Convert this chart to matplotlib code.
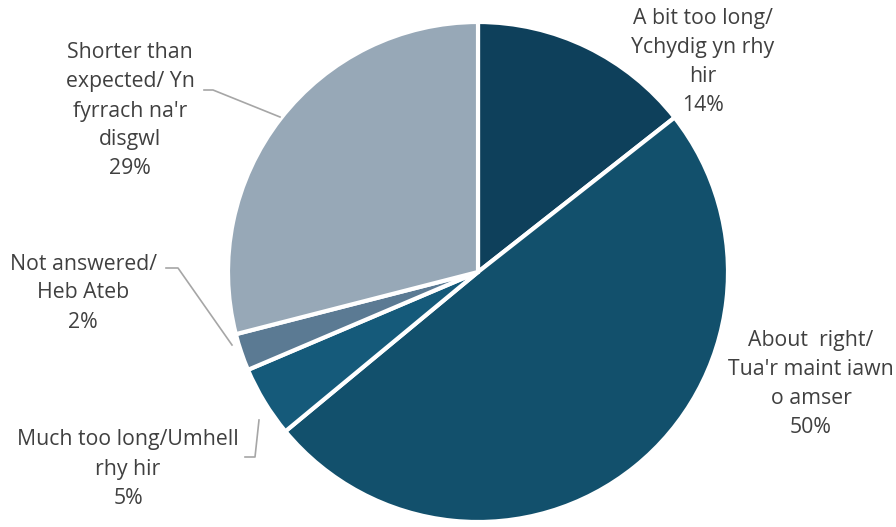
import matplotlib.pyplot as plt

# slices clockwise from 12 o'clock
categories = ['A bit too long/\nYchydig yn rhy\nhir',
              'About  right/\nTua\'r maint iawn\no amser',
              'Much too long/Umhell\nrhy hir',
              'Not answered/\nHeb Ateb',
              'Shorter than\nexpected/ Yn\nfyrrach na\'r\ndisgwl']
values = [14.4, 49.6, 4.6, 2.4, 29.0]
colours = ['#0e405b', '#12506c', '#155a7a', '#5b7a93', '#97a8b7']

W, H = 896, 527
fig = plt.figure(figsize=(W / 100, H / 100), dpi=100)
ax = fig.add_axes([0, 0, 1, 1])
plt.rcParams['font.family'] = ['Open Sans', 'DejaVu Sans']

cx, cy, r = 478, H - 272, 250
ax.pie(values, colors=colours, startangle=90, counterclock=False,
       center=(cx, cy), radius=r,
       wedgeprops=dict(edgecolor='white', linewidth=3))
ax.set_xlim(0, W)
ax.set_ylim(0, H)
ax.set_aspect('equal')
ax.axis('off')

# label centres in pixels (x, y from top)
label_pos = [(703, 62), (811, 384), (128, 469), (83, 293), (130, 111)]
for name, v, (lx, ly) in zip(categories, values, label_pos):
    ax.text(lx, H - ly, f'{name}\n{round(v)}%', ha='center', va='center',
            fontsize=15.3, color='#404040', linespacing=1.5)

# leader lines
lc = '#a6a6a6'
ax.plot([204, 213, 280], [H - 90, H - 90, H - 117], color=lc, lw=1.2)
ax.plot([166, 178, 232], [H - 268, H - 268, H - 345], color=lc, lw=1.2)
ax.plot([245, 255, 259], [H - 457, H - 457, H - 420], color=lc, lw=1.2)

fig.savefig('out.png', dpi=100)
